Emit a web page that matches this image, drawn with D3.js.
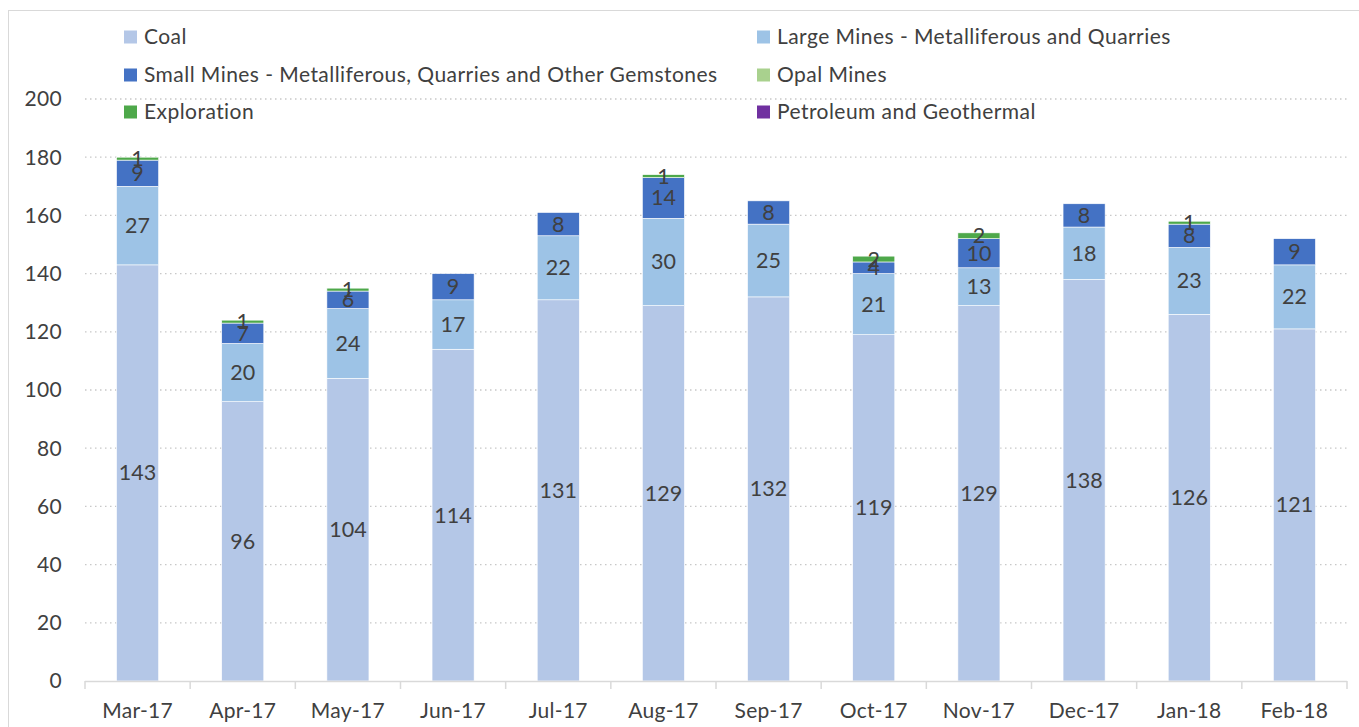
<!DOCTYPE html>
<html>
<head>
<meta charset="utf-8">
<script src="https://cdn.jsdelivr.net/npm/d3@7"></script>
<style>
  body { margin: 0; background: #fff; }
  text { font-family: Lato, "Open Sans", sans-serif; }
</style>
</head>
<body>
<svg id="chart" width="1359" height="727"></svg>
<script>
const months = ["Mar-17","Apr-17","May-17","Jun-17","Jul-17","Aug-17","Sep-17","Oct-17","Nov-17","Dec-17","Jan-18","Feb-18"];
const seriesNames = ["Coal","Large Mines - Metalliferous and Quarries","Small Mines - Metalliferous, Quarries and Other Gemstones","Opal Mines","Exploration","Petroleum and Geothermal"];
const coal = [143,96,104,114,131,129,132,119,129,138,126,121];
const largeMines = [27,20,24,17,22,30,25,21,13,18,23,22];
const smallMines = [9,7,6,9,8,14,8,4,10,8,8,9];
const opalMines = [0,0,0,0,0,0,0,0,0,0,0,0];
const exploration = [1,1,1,0,0,1,0,2,2,0,1,0];
const petroleum = [0,0,0,0,0,0,0,0,0,0,0,0];
const yTicks = [0,20,40,60,80,100,120,140,160,180,200];
const colors = ["#b4c7e7","#9dc3e6","#4472c4","#a9d18e","#4ea84a","#7030a0"];

(function () {
const seriesValues = [coal, largeMines, smallMines, opalMines, exploration, petroleum];
const keys = seriesNames;
const table = months.map((m, i) => {
  const row = { month: m };
  keys.forEach((k, j) => row[k] = seriesValues[j][i]);
  return row;
});

const svg = d3.select("#chart");
svg.append("rect").attr("x", 8.5).attr("y", 10.5).attr("width", 1360).attr("height", 730)
  .attr("fill", "none").attr("stroke", "#d9d9d9").attr("stroke-width", 1);

const pLeft = 85, pRight = 1347, pTop = 99, pBottom = 681;
const x = d3.scaleBand().domain(months).range([pLeft, pRight]).paddingInner(0.6).paddingOuter(0.3);
const y = d3.scaleLinear().domain([0, 200]).range([pBottom, pTop]);

svg.append("g").selectAll("line").data(yTicks.filter(t => t > 0)).join("line")
  .attr("x1", pLeft).attr("x2", pRight)
  .attr("y1", d => y(d)).attr("y2", d => y(d))
  .attr("stroke", "#c8c8c8").attr("stroke-width", 1.3).attr("stroke-dasharray", "1.5,3.5");

svg.append("g").selectAll("text").data(yTicks).join("text")
  .attr("x", 62).attr("y", d => y(d)).attr("dy", "0.35em")
  .attr("text-anchor", "end").attr("font-size", 21).attr("fill", "#404040")
  .attr("letter-spacing", 0.3)
  .text(d => d);

const stacked = d3.stack().keys(keys)(table);

const g = svg.append("g");
stacked.forEach((s, j) => {
  g.append("g").attr("fill", colors[j]).selectAll("rect").data(s).join("rect")
    .attr("x", d => x(d.data.month))
    .attr("width", x.bandwidth())
    .attr("y", d => y(d[1]))
    .attr("height", d => y(d[0]) - y(d[1]))
    .attr("stroke", "#fff").attr("stroke-width", d => (d[1] - d[0]) > 0 ? 0.6 : 0);
});

stacked.forEach((s, j) => {
  g.append("g").selectAll("text").data(s.filter(d => d[1] - d[0] > 0)).join("text")
    .attr("x", d => x(d.data.month) + x.bandwidth() / 2)
    .attr("y", d => y((d[0] + d[1]) / 2))
    .attr("dy", "0.35em")
    .attr("text-anchor", "middle").attr("font-size", 21.5).attr("fill", "#404040")
    .text(d => d[1] - d[0]);
});

const ax = svg.append("g").attr("transform", `translate(0,${pBottom})`);
ax.append("line").attr("x1", pLeft).attr("x2", pRight).attr("y1", 0.5).attr("y2", 0.5)
  .attr("stroke", "#d9d9d9").attr("stroke-width", 1.5);
const boundaries = d3.range(months.length + 1).map(i => pLeft + i * (pRight - pLeft) / months.length);
ax.selectAll("line.tk").data(boundaries).join("line").attr("class", "tk")
  .attr("x1", d => d).attr("x2", d => d).attr("y1", 0).attr("y2", 8)
  .attr("stroke", "#d9d9d9").attr("stroke-width", 1.5);
const axG = ax.append("g").call(d3.axisBottom(x).tickSize(0));
axG.select(".domain").remove();
axG.selectAll("text").attr("font-size", 21).attr("fill", "#404040").attr("dy", 0)
  .attr("letter-spacing", 0.3)
  .attr("y", 37).attr("font-family", "Lato, 'Open Sans', sans-serif");

const legendItems = [
  { name: seriesNames[0], color: colors[0], x: 124, y: 37 },
  { name: seriesNames[1], color: colors[1], x: 757, y: 37 },
  { name: seriesNames[2], color: colors[2], x: 124, y: 75 },
  { name: seriesNames[3], color: colors[3], x: 757, y: 75 },
  { name: seriesNames[4], color: colors[4], x: 124, y: 112 },
  { name: seriesNames[5], color: colors[5], x: 757, y: 112 }
];
const lg = svg.append("g").selectAll("g").data(legendItems).join("g")
  .attr("transform", d => `translate(${d.x},${d.y})`);
lg.append("rect").attr("x", 0).attr("y", -6.5).attr("width", 13).attr("height", 13).attr("fill", d => d.color);
lg.append("text").attr("x", 20).attr("dy", "0.35em").attr("font-size", 21).attr("fill", "#404040")
  .attr("letter-spacing", 0.45).text(d => d.name);
})();
</script>
</body>
</html>
